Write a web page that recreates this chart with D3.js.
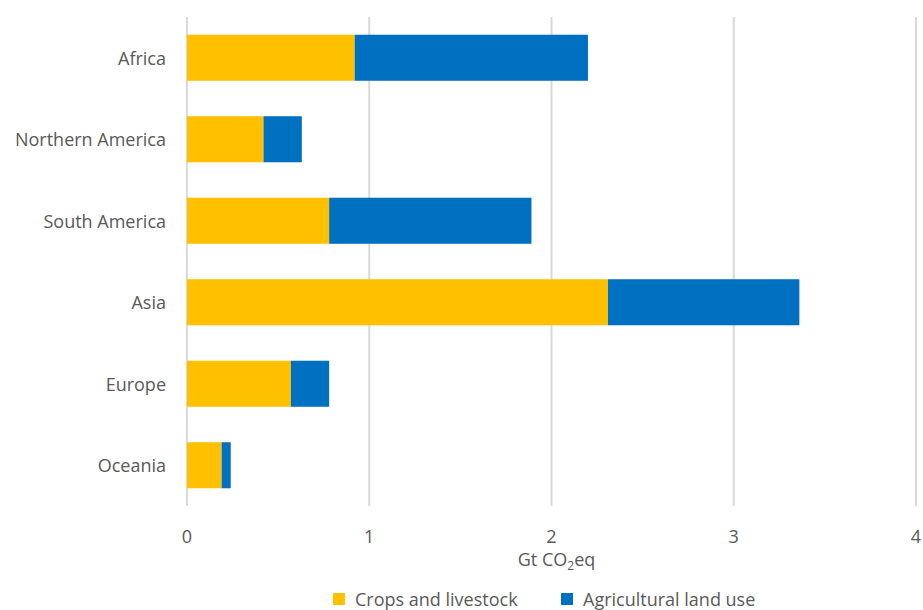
<!DOCTYPE html>
<html>
<head>
<meta charset="utf-8">
<script src="https://cdn.jsdelivr.net/npm/d3@7"></script>
<style>
  html, body { margin: 0; padding: 0; background: #fff; }
  svg { display: block; font-family: "Open Sans", "Noto Sans", sans-serif; }
</style>
</head>
<body>
<svg id="chart" width="923" height="610"></svg>
<script>
// Agricultural emissions by region, Gt CO2eq
const regions = ["Africa", "Northern America", "South America", "Asia", "Europe", "Oceania"];
const cropsLivestock = [0.92, 0.42, 0.78, 2.31, 0.57, 0.19];
const landUse = [1.28, 0.21, 1.11, 1.05, 0.21, 0.05];
const xTicks = [0, 1, 2, 3, 4];
const seriesNames = ["Crops and livestock", "Agricultural land use"];
const seriesColors = ["#FFC000", "#0070C0"];

const svg = d3.select("#chart");
const textColor = "#595959";
const fontSize = 18;

const x = d3.scaleLinear().domain([0, 4]).range([187, 916]);
const y = d3.scaleBand().domain(regions).range([17, 506]).paddingInner(0.435).paddingOuter(0.2175);

// Vertical gridlines
svg.append("g")
  .selectAll("line")
  .data(xTicks)
  .join("line")
  .attr("x1", d => x(d)).attr("x2", d => x(d))
  .attr("y1", 17).attr("y2", 506)
  .attr("stroke", "#D9D9D9")
  .attr("stroke-width", 2);

// Stacked bars
const rows = regions.map((r, i) => ({ region: r, crops: cropsLivestock[i], land: landUse[i] }));
const stack = d3.stack().keys(["crops", "land"])(rows);

svg.append("g")
  .selectAll("g")
  .data(stack)
  .join("g")
  .attr("fill", (d, i) => seriesColors[i])
  .selectAll("rect")
  .data(d => d)
  .join("rect")
  .attr("x", d => x(d[0]))
  .attr("width", d => x(d[1]) - x(d[0]))
  .attr("y", d => y(d.data.region))
  .attr("height", y.bandwidth());

// Category labels
svg.append("g")
  .selectAll("text")
  .data(regions)
  .join("text")
  .attr("x", 166)
  .attr("y", d => y(d) + y.bandwidth() / 2)
  .attr("text-anchor", "end")
  .attr("dominant-baseline", "central")
  .attr("fill", textColor)
  .attr("font-size", fontSize)
  .text(d => d);

// X tick labels
svg.append("g")
  .selectAll("text")
  .data(xTicks)
  .join("text")
  .attr("x", d => x(d))
  .attr("y", 536)
  .attr("text-anchor", "middle")
  .attr("dominant-baseline", "central")
  .attr("fill", textColor)
  .attr("font-size", fontSize)
  .text(d => d);

// Axis title
const title = svg.append("text")
  .attr("x", x(2) + 5)
  .attr("y", 566)
  .attr("text-anchor", "middle")
  .attr("fill", textColor)
  .attr("font-size", fontSize);
title.append("tspan").text("Gt CO");
title.append("tspan").attr("font-size", 12).attr("dy", 4).text("2");
title.append("tspan").attr("dy", -4).text("eq");

// Legend
const legendX = [333, 561];
const legend = svg.append("g")
  .selectAll("g")
  .data(seriesNames)
  .join("g")
  .attr("transform", (d, i) => `translate(${legendX[i]},599)`);
legend.append("rect")
  .attr("x", 0).attr("y", -6)
  .attr("width", 12).attr("height", 12)
  .attr("fill", (d, i) => seriesColors[i]);
legend.append("text")
  .attr("x", 22).attr("y", 0)
  .attr("dominant-baseline", "central")
  .attr("fill", textColor)
  .attr("font-size", fontSize)
  .text(d => d);
</script>
</body>
</html>
